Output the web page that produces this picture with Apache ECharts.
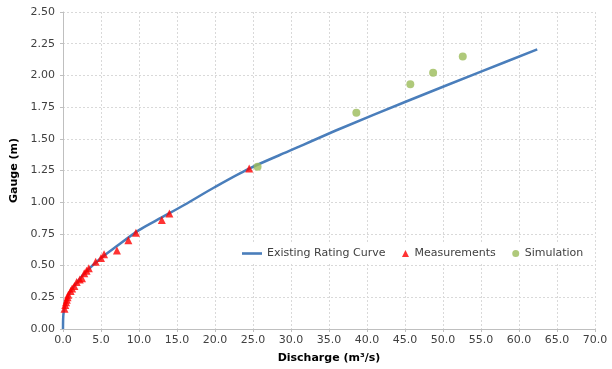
<!DOCTYPE html>
<html><head><meta charset="utf-8">
<script src="https://cdn.jsdelivr.net/npm/echarts@6/dist/echarts.min.js"></script>
<style>html,body{margin:0;padding:0;background:#fff}#c{width:612px;height:369px}</style>
</head><body><div id="c"></div>
<script>
// Existing rating curve (discharge m3/s, gauge m)
const curveQ = [0, 0.02, 0.08, 0.2, 0.5, 1, 2, 3, 5, 7, 10, 13, 16, 20, 24.5, 30, 36.7, 45, 55, 62.4];
const curveH = [0, 0.08, 0.13, 0.17, 0.23, 0.3, 0.38, 0.45, 0.56, 0.65, 0.78, 0.88, 0.98, 1.12, 1.265, 1.41, 1.585, 1.79, 2.03, 2.205];
// Measurements
const measQ = [0.2, 0.3, 0.4, 0.5, 0.6, 0.7, 1.0, 1.2, 1.5, 1.8, 2.2, 2.5, 2.8, 3.1, 3.4, 4.3, 5.0, 5.4, 7.1, 8.6, 9.6, 13.0, 14.0, 24.5];
const measH = [0.16, 0.19, 0.21, 0.23, 0.25, 0.27, 0.30, 0.32, 0.34, 0.37, 0.39, 0.40, 0.44, 0.46, 0.48, 0.53, 0.56, 0.59, 0.62, 0.70, 0.76, 0.86, 0.91, 1.265];
// Simulation
const simQ = [25.6, 38.6, 45.7, 48.7, 52.6];
const simH = [1.28, 1.705, 1.93, 2.02, 2.15];

const zip = (a, b) => a.map((v, i) => [v, b[i]]);
const chart = echarts.init(document.getElementById('c'), null, {renderer: 'canvas'});
const font = 'Verdana, "DejaVu Sans", sans-serif';
const pad = 'M0,0 L0.01,0 L0,0.01 Z M20,7 L19.99,7 L20,6.99 Z ';
chart.setOption({
  animation: false,
  grid: {left: 63, right: 17, top: 12, bottom: 37.5},
  xAxis: {
    type: 'value', min: 0, max: 70, interval: 5,
    name: 'Discharge (m³/s)', nameLocation: 'middle', nameGap: 24,
    nameTextStyle: {fontFamily: font, fontWeight: 'bold', fontSize: 11, color: '#000'},
    axisLine: {lineStyle: {color: '#bfbfbf'}},
    axisTick: {show: true, length: 3, lineStyle: {color: '#bfbfbf'}},
    axisLabel: {fontFamily: font, fontSize: 11, color: '#404040', margin: 6, formatter: v => v.toFixed(1)},
    splitLine: {show: true, lineStyle: {color: '#d9d9d9', type: [2, 2]}}
  },
  yAxis: {
    type: 'value', min: 0, max: 2.5, interval: 0.25,
    name: 'Gauge (m)', nameLocation: 'middle', nameGap: 42, nameRotate: 90,
    nameTextStyle: {fontFamily: font, fontWeight: 'bold', fontSize: 11, color: '#000'},
    axisLine: {show: true, lineStyle: {color: '#bfbfbf'}},
    axisTick: {show: true, length: 3, lineStyle: {color: '#bfbfbf'}},
    axisLabel: {fontFamily: font, fontSize: 11, color: '#404040', margin: 8, formatter: v => v.toFixed(2)},
    splitLine: {show: true, lineStyle: {color: '#d9d9d9', type: [2, 2]}}
  },
  legend: {
    left: 238, top: 243, width: 370, orient: 'horizontal', backgroundColor: '#fff', padding: [5, 6, 5, 4],
    itemGap: 4, itemWidth: 20, itemHeight: 7,
    textStyle: {fontFamily: font, fontSize: 11, color: '#404040'},
    data: [
      {name: 'Existing Rating Curve', icon: 'path://M0,0 H20 V2.6 H0 Z'},
      {name: 'Measurements', icon: 'path://' + pad + 'M12.5,7 L16,0 L19.5,7 Z'},
      {name: 'Simulation', icon: 'path://' + pad + 'M12.5,3.5 A3.5,3.5 0 1 1 19.5,3.5 A3.5,3.5 0 1 1 12.5,3.5 Z'}
    ]
  },
  series: [
    {name: 'Existing Rating Curve', type: 'line', data: zip(curveQ, curveH), symbol: 'none', smooth: 0.3,
     lineStyle: {color: '#4a7ebb', width: 2.5}, itemStyle: {color: '#4a7ebb'}, z: 2},
    {name: 'Measurements', type: 'scatter', data: zip(measQ, measH), symbol: 'triangle', symbolSize: 8,
     itemStyle: {color: '#ff0000'}, z: 3},
    {name: 'Simulation', type: 'scatter', data: zip(simQ, simH), symbol: 'circle', symbolSize: 8,
     itemStyle: {color: '#9bbb59'}, z: 4}
  ]
});
</script></body></html>
